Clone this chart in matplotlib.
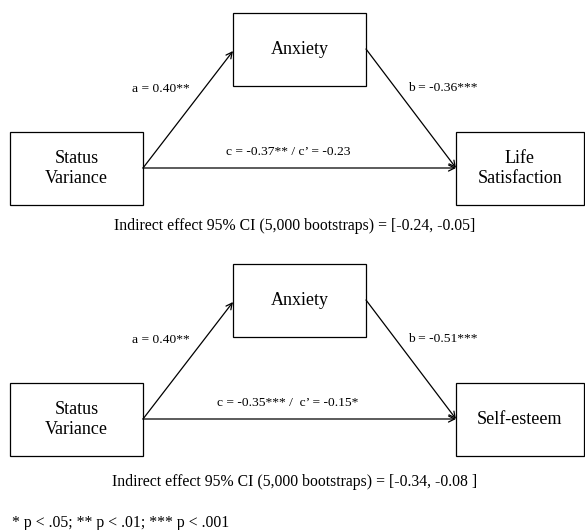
import matplotlib
matplotlib.use("Agg")
import matplotlib.pyplot as plt
from matplotlib.patches import Rectangle

plt.rcParams['font.family'] = ['Liberation Serif', 'DejaVu Serif']

# ---- data ----
mediator = ["Anxiety", "Anxiety"]
predictor = ["Status\nVariance", "Status\nVariance"]
outcomes = ["Life\nSatisfaction", "Self-esteem"]
a_labels = ["a = 0.40**", "a = 0.40**"]
b_labels = ["b = -0.36***", "b = -0.51***"]
c_labels = ["c = -0.37** / c\u2019 = -0.23", "c = -0.35*** /  c\u2019 = -0.15*"]
ci_labels = ["Indirect effect 95% CI (5,000 bootstraps) = [-0.24, -0.05]",
             "Indirect effect 95% CI (5,000 bootstraps) = [-0.34, -0.08 ]"]
footnote = "* p < .05; ** p < .01; *** p < .001"

W, H = 585, 530
fig = plt.figure(figsize=(W / 100, H / 100), dpi=100)
ax = fig.add_axes([0, 0, 1, 1])
ax.set_xlim(0, W)
ax.set_ylim(H, 0)
ax.axis('off')

box_fs = 13
lab_fs = 9.7
ci_fs = 11.3

def box(x0, y0, x1, y1, text):
    ax.add_patch(Rectangle((x0, y0), x1 - x0, y1 - y0, fill=False,
                           edgecolor='black', linewidth=0.9))
    ax.text((x0 + x1) / 2, (y0 + y1) / 2, text, ha='center', va='center',
            fontsize=box_fs, linespacing=1.25)

def arrow(p0, p1):
    ax.annotate("", xy=p1, xytext=p0,
                arrowprops=dict(arrowstyle="->", color='black', lw=0.9,
                                shrinkA=0, shrinkB=0, mutation_scale=11))

offsets = [0, 251]
ci_y = [226, 482]
for i, dy in enumerate(offsets):
    mt, mb = 13 + dy, 86 + dy
    st, sb = 132 + dy, 205 + dy
    ly = 168 + dy
    box(233, mt, 366, mb, mediator[i])
    box(10, st, 143, sb, predictor[i])
    box(456, st, 584, sb, outcomes[i])
    arrow((143, ly), (233, 51 + dy))
    arrow((366, 49 + dy), (456, ly))
    arrow((143, ly), (456, ly))
    ax.text(161, 89 + dy, a_labels[i], ha='center', va='center', fontsize=lab_fs)
    ax.text(443, 88 + dy, b_labels[i], ha='center', va='center', fontsize=lab_fs)
    ax.text(288, 152 + dy, c_labels[i], ha='center', va='center', fontsize=lab_fs)
    ax.text(295, ci_y[i], ci_labels[i], ha='center', va='center', fontsize=ci_fs)

ax.text(12, 523, footnote, ha='left', va='center', fontsize=ci_fs)

fig.savefig("out.png", dpi=100)
